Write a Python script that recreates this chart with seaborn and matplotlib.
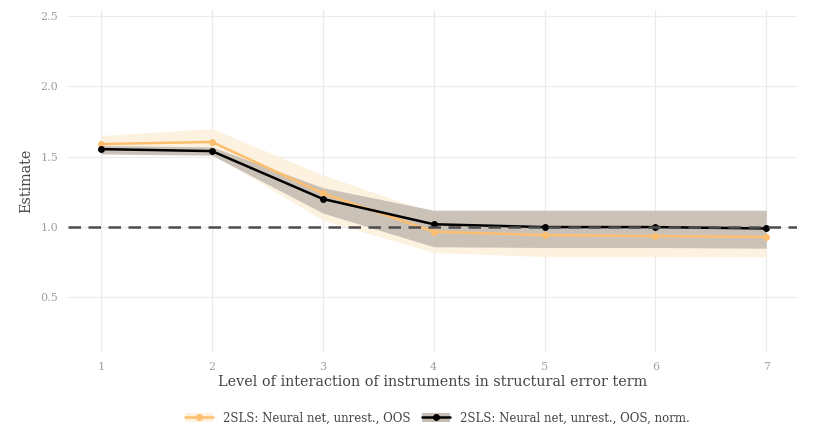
import numpy as np
import pandas as pd
import matplotlib
matplotlib.use("Agg")
import matplotlib.pyplot as plt
import seaborn as sns
from matplotlib.lines import Line2D
from matplotlib.patches import Patch

# Interaction level of instruments in the structural error term
levels = [1, 2, 3, 4, 5, 6, 7]

# 2SLS: neural net, unrestricted, out-of-sample
est_oos = [1.59, 1.605, 1.24, 0.967, 0.943, 0.936, 0.93]
lo_oos = [1.52, 1.52, 1.05, 0.82, 0.79, 0.79, 0.79]
hi_oos = [1.65, 1.70, 1.37, 1.10, 1.09, 1.09, 1.09]

# 2SLS: neural net, unrestricted, out-of-sample, normalized
est_norm = [1.554, 1.54, 1.20, 1.02, 1.0, 1.0, 0.99]
lo_norm = [1.52, 1.51, 1.10, 0.86, 0.855, 0.855, 0.85]
hi_norm = [1.58, 1.57, 1.28, 1.12, 1.12, 1.12, 1.12]

series_names = ["2SLS: Neural net, unrest., OOS", "2SLS: Neural net, unrest., OOS, norm."]
true_value = 1.0
y_ticks = [0.5, 1.0, 1.5, 2.0, 2.5]

orange = "#fdbf6f"
band_orange = "#fdf0dd"
band_gray = "#c6bdb3"

df = pd.DataFrame({
    "level": levels * 2,
    "estimate": est_oos + est_norm,
    "lo": lo_oos + lo_norm,
    "hi": hi_oos + hi_norm,
    "series": [series_names[0]] * 7 + [series_names[1]] * 7,
})

sns.set_theme(style="whitegrid")
plt.rcParams["font.family"] = ["DejaVu Serif"]

fig = plt.figure(figsize=(8.17, 4.33), dpi=100)
ax = fig.add_axes([0.083, 0.187, 0.893, 0.790])

palette = {series_names[0]: orange, series_names[1]: "black"}
bands = {series_names[0]: (band_orange, 0.9), series_names[1]: (band_gray, 0.9)}
for name in series_names:
    sub = df[df["series"] == name]
    color, alpha = bands[name]
    ax.fill_between(sub["level"], sub["lo"], sub["hi"], color=color, alpha=alpha,
                    linewidth=0, zorder=1 if name == series_names[0] else 2)

sns.lineplot(data=df, x="level", y="estimate", hue="series", palette=palette,
             marker="o", markersize=5, markeredgewidth=0, linewidth=1.8,
             legend=False, ax=ax, zorder=4)

ax.axhline(true_value, color="#4d4d4d", linestyle=(0, (5, 3)), linewidth=1.8, zorder=5)

ax.set_xlim(0.70, 7.28)
ax.set_ylim(0.112, 2.543)
ax.set_xticks(levels)
ax.set_yticks(y_ticks)
ax.set_yticklabels([f"{v:.1f}" for v in y_ticks])
for s in ax.spines.values():
    s.set_visible(False)
ax.grid(True, color="#ebebeb", linewidth=0.9)
ax.tick_params(axis="both", colors="#a0a0a0", labelsize=8, length=0, pad=7)
ax.set_xlabel("Level of interaction of instruments in structural error term",
              fontsize=10.4, color="#444444", labelpad=2)
ax.set_ylabel("Estimate", fontsize=10.4, color="#444444", labelpad=5)

handles = [
    (Patch(facecolor=band_orange, edgecolor="none"),
     Line2D([], [], color=orange, marker="o", markersize=4, linewidth=1.8)),
    (Patch(facecolor=band_gray, edgecolor="none"),
     Line2D([], [], color="black", marker="o", markersize=4, linewidth=1.8)),
]
fig.legend(handles, series_names, loc="lower center", bbox_to_anchor=(0.535, -0.005),
           ncol=2, frameon=False, fontsize=8.5, handlelength=2.4, columnspacing=1.0,
           handletextpad=0.8, labelcolor="#444444")

fig.savefig("out.png", dpi=100)
